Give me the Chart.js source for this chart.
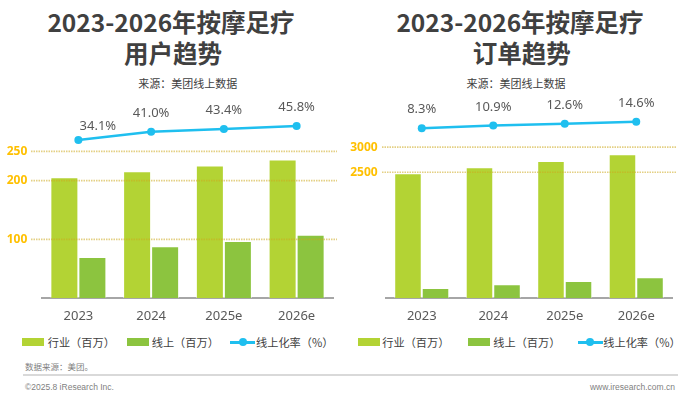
<!DOCTYPE html>
<html>
<head>
<meta charset="utf-8">
<script src="https://cdn.jsdelivr.net/npm/chart.js@4.4.1/dist/chart.umd.min.js"></script>
<style>
  html,body{margin:0;padding:0;background:#fff;}
  #wrap{position:relative;width:700px;height:397px;overflow:hidden;background:#fff;font-family:"Noto Sans CJK SC","Noto Sans",sans-serif;}
  .t{position:absolute;white-space:nowrap;}
  .title{font-weight:bold;font-size:24.5px;color:#404040;text-align:center;width:320px;height:30px;line-height:30px;}
  .sub{font-size:11px;color:#404040;text-align:center;width:200px;height:14px;line-height:14px;}
  .lg{font-size:11.2px;color:#404040;height:14px;line-height:14px;}
  .rect{position:absolute;width:22px;height:8px;}
  .lmark{position:absolute;width:25px;height:2.5px;background:#1FBFEF;}
  .lmark::after{content:"";position:absolute;left:8.5px;top:-2.75px;width:8px;height:8px;border-radius:50%;background:#1FBFEF;}
  canvas{position:absolute;}
</style>
</head>
<body>
<div id="wrap">
  <div class="t title" style="left:11px;top:6.7px;">2023-2026年按摩足疗</div>
  <div class="t title" style="left:13px;top:37.5px;">用户趋势</div>
  <div class="t sub" style="left:87.7px;top:76px;">来源：美团线上数据</div>

  <div class="t title" style="left:360px;top:6.7px;">2023-2026年按摩足疗</div>
  <div class="t title" style="left:361.7px;top:37.5px;">订单趋势</div>
  <div class="t sub" style="left:416px;top:76px;">来源：美团线上数据</div>

  <canvas id="c1" width="350" height="240" style="left:0;top:90px;width:350px;height:240px;"></canvas>
  <canvas id="c2" width="350" height="240" style="left:350px;top:90px;width:350px;height:240px;"></canvas>

  <div class="rect" style="left:22.3px;top:338.3px;background:#B3D334;"></div>
  <div class="t lg" style="left:47.7px;top:335.3px;">行业（百万）</div>
  <div class="rect" style="left:126.7px;top:338.3px;background:#8CC43F;"></div>
  <div class="t lg" style="left:151.7px;top:335.3px;">线上（百万）</div>
  <div class="lmark" style="left:230px;top:341px;"></div>
  <div class="t lg" style="left:256px;top:335.3px;">线上化率（%）</div>

  <div class="rect" style="left:358.3px;top:338.3px;background:#B3D334;"></div>
  <div class="t lg" style="left:382.3px;top:335.3px;">行业（百万）</div>
  <div class="rect" style="left:468.3px;top:338.3px;background:#8CC43F;"></div>
  <div class="t lg" style="left:493.3px;top:335.3px;">线上（百万）</div>
  <div class="lmark" style="left:577.7px;top:341px;"></div>
  <div class="t lg" style="left:603.3px;top:335.3px;">线上化率（%）</div>

  <div class="t" style="left:25px;top:360px;font-size:8.5px;line-height:12px;color:#7f7f7f;">数据来源：美团。</div>
  <div style="position:absolute;left:23px;top:374.3px;width:655px;height:1.5px;background:#D9D9D9;"></div>
  <div class="t" style="left:25px;top:380.5px;font-size:8.5px;line-height:12px;color:#7f7f7f;font-family:'Liberation Sans',Arial,sans-serif;">©2025.8 iResearch Inc.</div>
  <div class="t" style="right:25px;top:381px;font-size:8.5px;line-height:12px;color:#7f7f7f;font-family:'Liberation Sans',Arial,sans-serif;">www.iresearch.com.cn</div>
</div>

<script>
// ---- data ----
const categories = ['2023', '2024', '2025e', '2026e'];

const userIndustry = [206, 216, 226, 236];     // 行业（百万） users
const userOnline   = [70, 88, 97, 108];        // 线上（百万） users
const userRate     = [34.1, 41.0, 43.4, 45.8]; // 线上化率（%）
const userTicks    = [100, 200, 250];

const orderIndustry = [2480, 2600, 2725, 2860];
const orderOnline   = [200, 275, 340, 412];
const orderRate     = [8.3, 10.9, 12.6, 14.6];
const orderTicks    = [2500, 3000];

const seriesNames = ['行业（百万）', '线上（百万）', '线上化率（%）'];

// ---- plugins ----
const dottedGrid = {
  id: 'dottedGrid',
  afterDatasetsDraw(chart, args, opts) {
    const ys = chart.scales.y, a = chart.chartArea, ctx = chart.ctx;
    ctx.save();
    ctx.strokeStyle = 'rgba(205,170,30,0.55)';
    ctx.lineWidth = 1.6;
    ctx.setLineDash([1.5, 1]);
    ys.ticks.forEach(t => {
      const py = ys.getPixelForValue(t.value);
      ctx.beginPath();
      ctx.moveTo(a.left - opts.extLeft, py);
      ctx.lineTo(a.right + opts.extRight, py);
      ctx.stroke();
    });
    ctx.restore();
  }
};

const rateLabels = {
  id: 'rateLabels',
  afterDatasetsDraw(chart, args, opts) {
    const meta = chart.getDatasetMeta(0);
    const vals = chart.data.datasets[0].data;
    const ctx = chart.ctx;
    ctx.save();
    ctx.font = '13px "Noto Sans"';
    ctx.fillStyle = '#595959';
    ctx.textAlign = 'center';
    ctx.textBaseline = 'middle';
    meta.data.forEach((pt, i) => {
      const off = (opts.offsets && opts.offsets[i]) || [0, -18.5];
      ctx.fillText(vals[i].toFixed(1) + '%', pt.x + off[0], pt.y + off[1]);
    });
    ctx.restore();
  }
};

function makeChart(id, industry, online, rate, ticks, cfg) {
  return new Chart(document.getElementById(id), {
    data: {
      labels: categories,
      datasets: [
        {
          type: 'line', label: seriesNames[2], data: rate, yAxisID: 'y2', order: 0,
          borderColor: '#1FBFEF', backgroundColor: '#1FBFEF', borderWidth: 2.5,
          pointRadius: 4, pointBackgroundColor: '#1FBFEF', pointBorderWidth: 0,
          tension: 0, clip: false
        },
        {
          type: 'bar', label: seriesNames[0], data: industry, yAxisID: 'y', order: 1,
          backgroundColor: '#B3D334', borderColor: 'rgba(255,255,255,0.55)', borderWidth: 1,
          categoryPercentage: 0.77, barPercentage: 1.0
        },
        {
          type: 'bar', label: seriesNames[1], data: online, yAxisID: 'y', order: 1,
          backgroundColor: '#8CC43F', borderColor: 'rgba(255,255,255,0.55)', borderWidth: 1,
          categoryPercentage: 0.77, barPercentage: 1.0
        }
      ]
    },
    options: {
      responsive: false,
      animation: false,
      devicePixelRatio: 1,
      events: [],
      layout: { padding: { top: 32, right: cfg.padRight, left: 0, bottom: 0 } },
      plugins: {
        legend: { display: false },
        tooltip: { enabled: false },
        dottedGrid: { extLeft: cfg.gridLeft, extRight: cfg.gridRight },
        rateLabels: { offsets: cfg.labelOffsets }
      },
      scales: {
        x: {
          type: 'category',
          grid: { display: false, drawTicks: false },
          border: { display: true, color: '#A6A6A6', width: 2 },
          ticks: { color: '#595959', font: { family: '"Noto Sans"', size: 13 }, padding: 10, maxRotation: 0 },
          afterFit(s) { s.height = 32; }
        },
        y: {
          type: 'linear', position: 'left', min: 0, max: cfg.yMax,
          afterBuildTicks(s) { s.ticks = ticks.map(v => ({ value: v })); },
          afterFit(s) { s.width = cfg.axisWidth; },
          grid: { display: false, drawTicks: false },
          border: { display: false },
          ticks: {
            color: '#FFC000', font: { family: '"Noto Sans"', size: 12, weight: 'bold' }, padding: cfg.tickPad,
            callback: v => String(v)
          }
        },
        y2: { type: 'linear', display: false, min: cfg.rMin, max: cfg.rMax }
      }
    },
    plugins: [dottedGrid, rateLabels]
  });
}

makeChart('c1', userIndustry, userOnline, userRate, userTicks, {
  yMax: 300, rMin: -98, rMax: 49.2, padRight: 17, axisWidth: 42, tickPad: 14.7,
  gridLeft: 11, gridRight: 4, labelOffsets: [[19.5, -13.3]]
});
makeChart('c2', orderIndustry, orderOnline, orderRate, orderTicks, {
  yMax: 3500, rMin: -153.7, rMax: 14.3, padRight: 28, axisWidth: 36, tickPad: 8.3,
  gridLeft: 4, gridRight: 5, labelOffsets: []
});
</script>
</body>
</html>
